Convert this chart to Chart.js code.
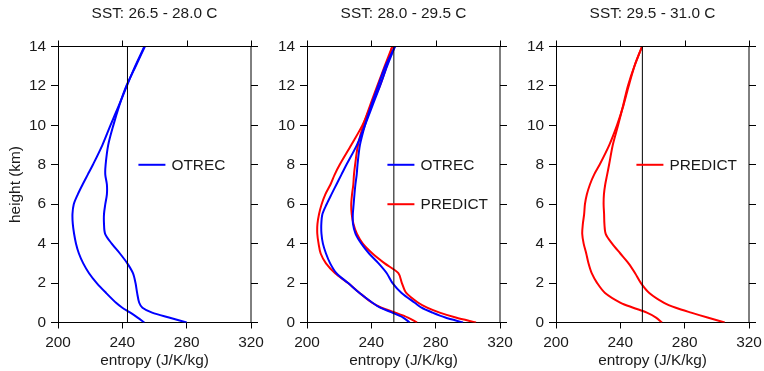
<!DOCTYPE html>
<html><head><meta charset="utf-8">
<script src="https://cdn.jsdelivr.net/npm/chart.js@4.4.0/dist/chart.umd.min.js"></script>
<style>
html,body{margin:0;padding:0;background:#fff;}
#wrap{position:relative;width:764px;height:371px;overflow:hidden;background:#fff;}
canvas{position:absolute;left:0;top:0;}
</style></head><body>
<div id="wrap">
<canvas id="c0" width="764" height="371" style="width:764px;height:371px"></canvas>
<canvas id="c1" width="764" height="371" style="width:764px;height:371px"></canvas>
<canvas id="c2" width="764" height="371" style="width:764px;height:371px"></canvas>
</div>
<script>
// ---- data ----
const heights = [0,0.25,0.5,0.75,1,1.5,2,2.5,3,3.5,4,4.5,5,5.5,6,6.5,7,7.5,8,9,10,11,12,13,14];
const xTicks = [200,240,280,320];
const yTicks = [0,2,4,6,8,10,12,14];
const panelTitles = ["SST: 26.5 - 28.0 C","SST: 28.0 - 29.5 C","SST: 29.5 - 31.0 C"];
const refValues = [243.2, 254.0, 253.7];

const otrec1Low  = [253.7,249.5,245,240,236.1,229.9,224.1,219.3,215.7,213,211.2,210,209.2,209,209.8,212.3,215.3,218.5,221.7,227.6,232.6,237.8,242.8,248,253.7];
const otrec1High = [280,269,258.5,252.5,250.5,249.2,248.2,246.6,243.1,238.5,233.4,229.3,228.6,228.6,229.4,230.4,230.4,229.4,229.6,231.2,234.4,238.1,242.5,248.3,254];

const otrec2Low    = [263.8,259.8,253,245.5,240.7,232.7,225.6,218.3,214.4,211.8,209.9,209,208.9,209.6,212.2,215.2,218.3,221.4,224.5,231,236,240.7,245.4,249.8,254.7];
const otrec2High   = [297,286,278,271.2,267,258.8,253.2,249.6,244.5,238.6,233.8,230.2,228.6,228.5,229,229.5,230.1,230.9,231.4,232.9,236,239.9,244.2,248.7,254.7];
const predict2Low  = [268.4,262.8,255,246.3,240.5,232.7,225.5,217.5,211.8,208.5,207.2,206.4,206.5,207.5,209.1,211.4,214.6,217.2,220.3,227.5,234.4,239.8,245.3,249.5,253];
const predict2High = [305.1,292.5,282.5,274.7,269.2,261.7,259,256.8,248.3,240.7,234.7,231,228.9,227.8,227.5,228,228.8,229.2,229.9,231.7,235,239.2,243.7,248.3,253];

const predict3Low  = [265.9,262.2,256.5,248,240.2,230.5,225.6,222.2,220.2,218.8,217.2,216.3,216.7,217.5,218,219.2,221.1,223.7,227.1,233.1,237.9,241.9,245.2,248.8,253.5];
const predict3High = [304.9,294.2,284,274.5,267.2,258,252.8,249.2,245.1,240,234.9,230.9,230.1,229.9,229.6,229.8,230.6,231.8,233,235.3,238.6,241.7,244.7,248.7,253.5];

const seriesNames = ["OTREC","PREDICT"];

// ---- style / layout ----
const BLUE = '#0000ff', RED = '#ff0000', TXT = '#1a1a1a';
const FONT = "'Liberation Sans', Arial, Helvetica, sans-serif";
const FS = 15.4;
const PANEL_LEFT = [58, 307, 556];
const PANEL_W = 193;

function toXY(vals){ return vals.map((v,i)=>({x:v, y:heights[i]})); }

function curve(vals, color){
  return {data: toXY(vals), borderColor: color, borderWidth: 2, pointRadius: 0, showLine: true, tension: 0.3, fill:false};
}
function refLine(v){
  return {data: [{x:v,y:heights[0]},{x:v,y:heights[heights.length-1]}], borderColor:'#000', borderWidth:1, pointRadius:0, showLine:true, tension:0};
}

const framePlugin = {
  id: 'frame',
  afterDatasetsDraw(chart, args, opts){
    const {ctx, chartArea:a, scales:{x, y}} = chart;
    ctx.save();
    ctx.strokeStyle = '#000'; ctx.lineWidth = 1;
    ctx.beginPath();
    const right = a.right;
    ctx.moveTo(a.left, a.top); ctx.lineTo(a.right, a.top);
    ctx.moveTo(right, a.top); ctx.lineTo(right, a.bottom);
    x.ticks.forEach(t=>{ const px = Math.round(x.getPixelForValue(t.value))+0.5; ctx.moveTo(px, a.top); ctx.lineTo(px, a.top-6); });
    y.ticks.forEach(t=>{ const py = Math.round(y.getPixelForValue(t.value)-0.5)+0.5; ctx.moveTo(right, py); ctx.lineTo(right+7, py); });
    ctx.stroke();
    // legend
    (opts.items||[]).forEach(it=>{
      const x0 = x.getPixelForValue(opts.xStart);
      const py = y.getPixelForValue(it.y);
      ctx.strokeStyle = it.color; ctx.lineWidth = 2;
      ctx.beginPath(); ctx.moveTo(x0, py); ctx.lineTo(x0+27, py); ctx.stroke();
      ctx.fillStyle = TXT; ctx.font = FS + "px " + FONT;
      ctx.textAlign = 'left'; ctx.textBaseline = 'middle';
      ctx.fillText(it.label, x0+33, py+0.5);
    });
    ctx.restore();
  }
};

function makeChart(idx, datasets, legendItems){
  const L = PANEL_LEFT[idx];
  const padLeft = L - 58;
  const padRight = 764 - (L + PANEL_W);
  return new Chart(document.getElementById('c'+idx), {
    type: 'scatter',
    data: {datasets},
    plugins: [framePlugin],
    options: {
      responsive: false, animation: false, events: [],
      layout: {padding: {left: padLeft, right: padRight, top: 0, bottom: 0}},
      plugins: {
        legend: {display: false}, tooltip: {enabled: false},
        title: {display: true, text: panelTitles[idx], fullSize: false, color: TXT,
                font: {family: FONT, size: FS, weight: 'normal'}, padding: {top: 4.5, bottom: 23.52}},
        frame: {items: legendItems, xStart: 250}
      },
      scales: {
        x: {
          type: 'linear', min: 200, max: 320,
          afterBuildTicks(s){ s.ticks = xTicks.map(v=>({value:v})); },
          ticks: {color: TXT, font: {family: FONT, size: FS}, padding: 5.3, maxRotation: 0, autoSkip: false},
          grid: {drawOnChartArea: false, drawTicks: true, tickLength: 6, color: '#000', lineWidth: 1},
          border: {display: true, color: '#000', width: 1},
          title: {display: true, text: 'entropy (J/K/kg)', color: TXT, font: {family: FONT, size: FS}, padding: {top: 0, bottom: 0.6}},
          afterFit(s){ s.height = 48.5; s.paddingLeft = 0; s.paddingRight = 0; }
        },
        y: {
          type: 'linear', min: 0, max: 14,
          afterBuildTicks(s){ s.ticks = yTicks.map(v=>({value:v})); },
          ticks: {color: TXT, font: {family: FONT, size: FS}, padding: 5, autoSkip: false},
          grid: {drawOnChartArea: false, drawTicks: true, tickLength: 7, color: '#000', lineWidth: 1},
          border: {display: true, color: '#000', width: 1},
          title: {display: idx === 0, text: 'height (km)', color: TXT, font: {family: FONT, size: FS}, padding: {top: 7, bottom: 0}},
          afterFit(s){ s.width = 58; s.paddingTop = 0; s.paddingBottom = 0; }
        }
      }
    }
  });
}

makeChart(0, [refLine(refValues[0]), curve(otrec1Low, BLUE), curve(otrec1High, BLUE)],
  [{label: seriesNames[0], color: BLUE, y: 8}]);
makeChart(1, [refLine(refValues[1]), curve(otrec2Low, BLUE), curve(otrec2High, BLUE), curve(predict2Low, RED), curve(predict2High, RED)],
  [{label: seriesNames[0], color: BLUE, y: 8}, {label: seriesNames[1], color: RED, y: 6}]);
makeChart(2, [refLine(refValues[2]), curve(predict3Low, RED), curve(predict3High, RED)],
  [{label: seriesNames[1], color: RED, y: 8}]);
</script>
</body></html>
